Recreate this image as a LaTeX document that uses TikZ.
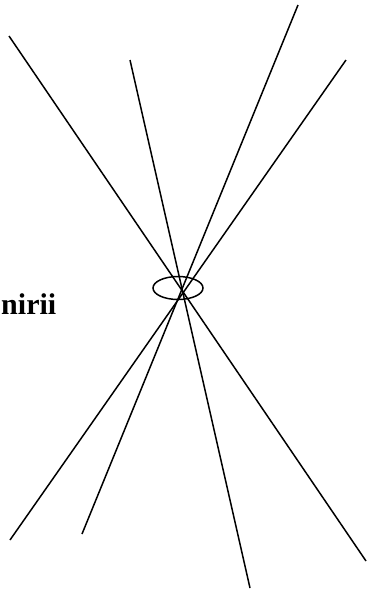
\documentclass[tikz,border=0pt]{standalone}
\usepackage{fontspec}
\setmainfont{Liberation Serif}
\usetikzlibrary{positioning}

\begin{document}
\begin{tikzpicture}[x=1pt,y=-1pt,line width=1.5pt]
  \useasboundingbox (0,0) rectangle (367,592);
  % ends of the lines
  \coordinate (a1) at (9,36);
  \coordinate (a2) at (366,561);
  \coordinate (b1) at (130,60);
  \coordinate (b2) at (250,588);
  \coordinate (c1) at (298,5);
  \coordinate (c2) at (82,534);
  \coordinate (d1) at (346,60);
  \coordinate (d2) at (10,540);
  \coordinate (knot) at (178,288);
	\draw (a1) to (a2);
	\draw (b1) to (b2);
	\draw (c1) to (c2);
	\draw (d1) to (d2);
  \draw (knot) ellipse [x radius=25pt, y radius=11.5pt];
  \node[anchor=base west,inner sep=0pt,font=\bfseries\fontsize{30}{36}\selectfont] (word) at (0.5,314) {nirii};
\end{tikzpicture}
\end{document}
